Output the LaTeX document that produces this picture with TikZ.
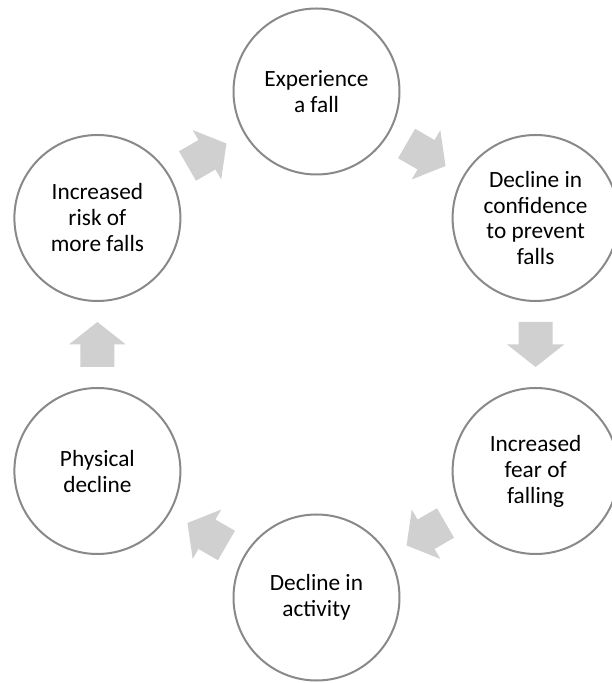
\documentclass[tikz,border=0pt]{standalone}
\usepackage{fontspec}
\setmainfont{Carlito}
\usetikzlibrary{calc}

\definecolor{ringgray}{RGB}{137,137,137}
\definecolor{arrowgray}{RGB}{208,208,208}

\begin{document}
\begin{tikzpicture}[x=1pt,y=1pt,
    stage/.style={circle,draw=ringgray,line width=2pt,fill=white,minimum size=166pt,
        inner sep=0pt,align=center,font=\fontsize{23.3}{26}\selectfont},
    flow/.pic={\fill[arrowgray] (-22.5,-17) -- (0,-17) -- (0,-28.5) -- (22.5,0)
        -- (0,28.5) -- (0,17) -- (-22.5,17) -- cycle;}]
    \useasboundingbox (0,0) rectangle (612,683);

    % 绘制六个圆
    \node[stage] (fall) at (316.5,591.5) {Experience\\a fall};
    \node[stage] (conf) at (535.6,465) {Decline in\\confidence\\to prevent\\falls};
    \node[stage] (fear) at (535.6,212) {Increased\\fear of\\falling};
    \node[stage] (act)  at (316.5,85.5) {Decline in\\activity};
    \node[stage] (phys) at (97.4,212) {Physical\\decline};
    \node[stage] (risk) at (97.4,465) {Increased\\risk of\\more falls};

    % 绘制箭头
    \pic[rotate=-30]  at ($(fall)!0.5!(conf)$) {flow};
    \pic[rotate=-90]  at ($(conf)!0.5!(fear)$) {flow};
    \pic[rotate=-150] at ($(fear)!0.5!(act)$)  {flow};
    \pic[rotate=150]  at ($(act)!0.5!(phys)$)  {flow};
    \pic[rotate=90]   at ($(phys)!0.5!(risk)$) {flow};
    \pic[rotate=30]   at ($(risk)!0.5!(fall)$) {flow};
\end{tikzpicture}
\end{document}
